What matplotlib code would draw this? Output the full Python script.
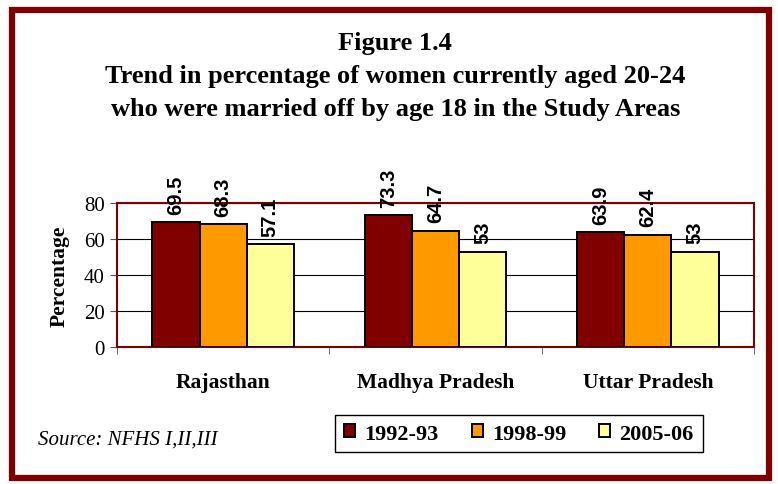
import numpy as np
import matplotlib
matplotlib.use("Agg")
from matplotlib import pyplot as plt
from matplotlib.patches import Rectangle

# data
states = ["Rajasthan", "Madhya Pradesh", "Uttar Pradesh"]
years = ["1992-93", "1998-99", "2005-06"]
v_1992 = [69.5, 73.3, 63.9]
v_1998 = [68.3, 64.7, 62.4]
v_2005 = [57.1, 53, 53]
colors = ["#800000", "#FF9900", "#FFFF99"]

serif = ["Liberation Serif", "DejaVu Serif"]
sans = ["Liberation Sans", "DejaVu Sans"]

fig = plt.figure(figsize=(7.78, 4.85), dpi=100)

# outer frame
fig.patches.append(Rectangle((0.016, 0.012), 0.973, 0.966, transform=fig.transFigure,
                             fill=False, edgecolor="#800000", linewidth=4.5, zorder=0))

fig.text(0.508, 0.911, "Figure 1.4", ha="center", va="center",
         family=serif, fontweight="bold", fontsize=19)
fig.text(0.508, 0.843, "Trend in percentage of women currently aged 20-24", ha="center",
         va="center", family=serif, fontweight="bold", fontsize=19)
fig.text(0.508, 0.775, "who were married off by age 18 in the Study Areas", ha="center",
         va="center", family=serif, fontweight="bold", fontsize=19)

ax = fig.add_axes([0.1504, 0.2825, 0.8188, 0.2969])
x = np.arange(len(states))
w = 0.222
for i, (vals, lab) in enumerate(zip([v_1992, v_1998, v_2005], years)):
    bars = ax.bar(x + (i - 1) * w, vals, w, color=colors[i], edgecolor="black",
                  linewidth=1.4, label=lab, zorder=3)
    for b, v in zip(bars, vals):
        ax.annotate(f"{v:g}", (b.get_x() + b.get_width() / 2, v), xytext=(0, 6),
                    textcoords="offset points", rotation=90, ha="center", va="bottom",
                    family=sans, fontweight="bold", fontsize=14.5, zorder=4,
                    annotation_clip=False)

ax.set_xlim(-0.5, 2.5)
ax.set_ylim(0, 80)
ax.set_yticks([0, 20, 40, 60, 80])
ax.yaxis.grid(True, color="black", linewidth=0.8, zorder=0)
ax.set_axisbelow(True)
ax.tick_params(axis="y", direction="out", length=5, color="#555555",
               labelsize=15, pad=4)
for t in ax.get_yticklabels():
    t.set_family(serif)
ax.set_xticks(x)
ax.set_xticklabels(states, family=serif, fontweight="bold", fontsize=15.5)
ax.tick_params(axis="x", length=0, pad=18)
ax.set_xticks([-0.5, 0.5, 1.5, 2.5], minor=True)
ax.tick_params(axis="x", which="minor", direction="out", length=5, color="#555555")
for s in ax.spines.values():
    s.set_color("#800000")
    s.set_linewidth(1.5)
ax.set_ylabel("Percentage", family=serif, fontweight="bold", fontsize=15.5, labelpad=10)

leg = fig.legend(loc="center", bbox_to_anchor=(0.667, 0.104), ncol=3,
                 prop={"family": serif, "weight": "bold", "size": 16},
                 handlelength=0.5, handleheight=0.5, handletextpad=0.4,
                 columnspacing=1.5, borderpad=0.4, borderaxespad=0,
                 fancybox=False, framealpha=1)
leg.get_frame().set_edgecolor("black")
leg.get_frame().set_linewidth(1)

fig.text(0.049, 0.093, "Source: NFHS I,II,III", ha="left", va="center",
         family=serif, style="italic", fontsize=15)

plt.savefig("out.png", dpi=100)
